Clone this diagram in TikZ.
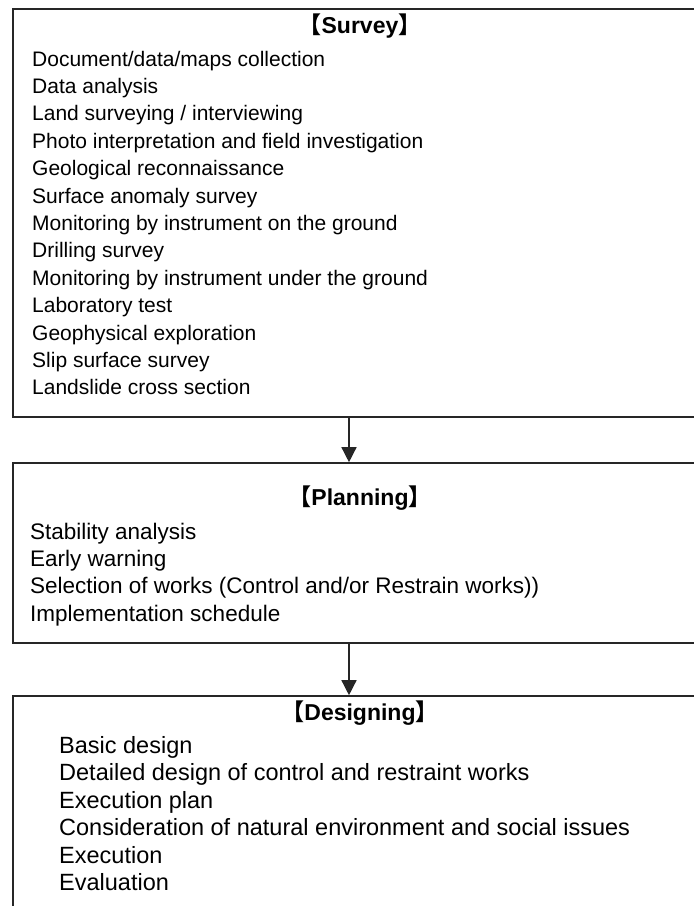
\documentclass[tikz,border=0pt]{standalone}
\usepackage{fontspec}
\setmainfont{Liberation Sans}
\newfontfamily\cjk{Noto Sans CJK JP}
\usetikzlibrary{arrows.meta,positioning}
\tikzstyle{stage} = [rectangle, draw=black!85, line width=1.6pt, inner sep=0pt, minimum width=697pt]
\tikzstyle{heading} = [anchor=base, inner sep=0pt, font=\fontsize{23}{26}\selectfont\bfseries]
\tikzstyle{item} = [anchor=base west, inner sep=0pt, font=\fontsize{21.5}{26}\selectfont]
\tikzstyle{arrow} = [line width=1.4pt, draw=black!85, -{Triangle[length=15pt,width=15pt]}]
\newcommand{\lb}{{\cjk 【}}
\newcommand{\rb}{{\cjk 】}}

\begin{document}
\begin{tikzpicture}[x=1pt, y=-1pt]
\path[use as bounding box] (0,0) rectangle (694,906);
\clip (0,0) rectangle (694,906);

% Stages
\node[stage, minimum height=408pt] (survey) at (361.5,213) {};
\node[stage, minimum height=180pt] (planning) at (361.5,553) {};
\node[stage, minimum height=250pt] (designing) at (361.5,821) {};

% Headings
\node[heading] (surveyhead) at (360,33) {\lb Survey\rb};
\node[heading] (planninghead) at (360,505) {\lb Planning\rb};
\node[heading] (designinghead) at (360,720) {\lb Designing\rb};

% Survey items
\foreach \t [count=\i] in {Document/data/maps collection, Data analysis,
    Land surveying / interviewing, Photo interpretation and field investigation,
    Geological reconnaissance, Surface anomaly survey,
    Monitoring by instrument on the ground, Drilling survey,
    Monitoring by instrument under the ground, Laboratory test,
    Geophysical exploration, Slip surface survey, Landslide cross section}
  \node[item, font=\fontsize{21}{26}\selectfont] (s\i) at (32,{66+27.4*(\i-1)}) {\t};

% Planning items
\foreach \t [count=\i] in {Stability analysis, Early warning,
    Selection of works (Control and/or Restrain works)), Implementation schedule}
  \node[item, font=\fontsize{22.5}{26}\selectfont] (p\i) at (30,{539+27.4*(\i-1)}) {\t};

% Designing items
\foreach \t [count=\i] in {Basic design, Detailed design of control and restraint works,
    Execution plan, Consideration of natural environment and social issues,
    Execution, Evaluation}
  \node[item, font=\fontsize{23.5}{26}\selectfont] (d\i) at (59,{753+27.5*(\i-1)}) {\t};

% Flow
\draw[arrow] ([xshift=-12.5pt]survey.south) -- ([xshift=-12.5pt]planning.north);
\draw[arrow] ([xshift=-12.5pt]planning.south) -- ([xshift=-12.5pt]designing.north);
\end{tikzpicture}
\end{document}
